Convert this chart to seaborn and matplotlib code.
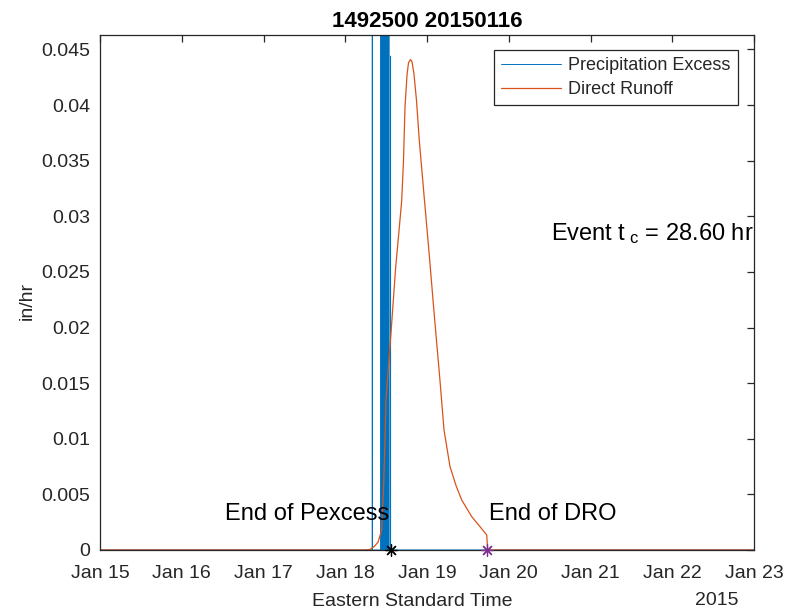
import numpy as np
import pandas as pd
import matplotlib
matplotlib.use("Agg")
import matplotlib.pyplot as plt
import matplotlib.dates as mdates
import seaborn as sns

# ---------------- data ----------------
title_text = "1492500 20150116"
start_date = "2015-01-15"
end_date = "2015-01-23"
event_day = "2015-01-18"  # reference for hour offsets

# precipitation excess spikes (hours after Jan 18 00:00, in/hr)
pe_hours = [7.95, 10.50, 10.90, 11.30, 11.70, 12.10, 12.45, 12.80, 13.30]
pe_values = [0.080, 0.120, 0.150, 0.110, 0.130, 0.100, 0.090, 0.070, 0.0444]

# direct runoff (hours after Jan 18 00:00, in/hr)
dro_hours = [5.80, 7.27, 8.44, 9.62, 10.70, 11.23, 11.67, 11.96, 12.70, 13.43,
             14.81, 15.78, 16.57, 17.10, 17.54, 18.13, 18.57, 19.16, 19.60,
             20.18, 20.92, 21.74, 23.21, 24.59, 26.06, 27.82, 28.99,
             30.75, 32.51, 34.19, 37.12, 39.56, 41.53, 41.82]
dro_values = [0.0, 0.00005, 0.0003, 0.0007, 0.0018, 0.0054, 0.0099, 0.0135,
              0.0166, 0.0195, 0.02545, 0.0287, 0.0314, 0.0350, 0.0398, 0.0427,
              0.0438, 0.0441, 0.0439, 0.0428, 0.0404, 0.0368, 0.0316, 0.0268,
              0.0214, 0.0152, 0.0108, 0.0075, 0.0058, 0.0045, 0.0030,
              0.0021, 0.00135, 0.0]

end_pexcess_hours = 13.35
end_dro_hours = 41.62
tc_hours = 28.60

yticks = [0, 0.005, 0.01, 0.015, 0.02, 0.025, 0.03, 0.035, 0.04, 0.045]
xtick_days = ["2015-01-15", "2015-01-16", "2015-01-17", "2015-01-18", "2015-01-19",
              "2015-01-20", "2015-01-21", "2015-01-22", "2015-01-23"]

# ---------------- build tables ----------------
t0 = pd.Timestamp(event_day)
t_start = pd.Timestamp(start_date)
t_end = pd.Timestamp(end_date)
eps = pd.Timedelta(minutes=1)

pe_t = [t_start]
pe_v = [0.0]
for h, v in zip(pe_hours, pe_values):
    t = t0 + pd.Timedelta(hours=h)
    pe_t += [t - eps, t, t + eps]
    pe_v += [0.0, v, 0.0]
pe_t.append(t_end)
pe_v.append(0.0)
pe_df = pd.DataFrame({"time": pe_t, "value": pe_v})

dro_t = [t_start] + [t0 + pd.Timedelta(hours=h) for h in dro_hours] + [t_end]
dro_v = [0.0] + dro_values + [0.0]
dro_df = pd.DataFrame({"time": dro_t, "value": dro_v})

# ---------------- style ----------------
sns.set_style("white")
plt.rcParams["font.family"] = ["Liberation Sans", "DejaVu Sans"]
plt.rcParams["mathtext.fontset"] = "custom"
plt.rcParams["mathtext.rm"] = "Liberation Sans"
plt.rcParams["mathtext.it"] = "Liberation Sans"

dark = (0.15, 0.15, 0.15)
blue = "#0072BD"
orange = "#D95319"
purple = "#7E2F8E"

fig = plt.figure(figsize=(7.86, 6.13), dpi=100)
ax = fig.add_axes([100 / 786, 1 - 550 / 613, 654 / 786, (550 - 35) / 613])

sns.lineplot(data=pe_df, x="time", y="value", ax=ax, color=blue, lw=0.7,
             estimator=None, sort=False, label="Precipitation Excess")
sns.lineplot(data=dro_df, x="time", y="value", ax=ax, color=orange, lw=0.9,
             estimator=None, sort=False, label="Direct Runoff")

# end markers (asterisk = plus + x)
t_pe_end = t0 + pd.Timedelta(hours=end_pexcess_hours)
t_dro_end = t0 + pd.Timedelta(hours=end_dro_hours)
for t, c in [(t_pe_end, "k"), (t_dro_end, purple)]:
    for m in [(4, 2, 0), (4, 2, 45)]:
        ax.plot([t], [0], marker=m, color=c, ms=9, mew=0.9, ls="none",
                clip_on=False, zorder=5)

ax.set_xlim(t_start, t_end)
ax.set_ylim(0, 0.0463)
ax.set_xticks([pd.Timestamp(d) for d in xtick_days])
ax.xaxis.set_major_formatter(mdates.DateFormatter("%b %d"))
ax.set_yticks(yticks)
ax.set_yticklabels([f"{v:g}" for v in yticks])

for s in ax.spines.values():
    s.set_color(dark)
    s.set_linewidth(0.9)
ax.tick_params(direction="in", length=5, width=0.9, color=dark,
               labelcolor=dark, labelsize=14, top=True, right=True)
ax.tick_params(axis="x", pad=11)
ax.tick_params(axis="y", pad=7)

ax.set_title(title_text, fontsize=16, fontweight="bold", color="k", pad=6)
ax.set_xlabel("Eastern Standard Time", fontsize=14, color=dark)
ax.xaxis.set_label_coords(0.477, -0.083)
ax.set_ylabel("in/hr", fontsize=14, color=dark)
ax.yaxis.set_label_coords(-0.098, 0.483)
ax.text(0.943, -0.099, "2015", transform=ax.transAxes, fontsize=14,
        color=dark, ha="center", va="center")

ax.text(t_pe_end - pd.Timedelta(minutes=30), 0.00325, "End of Pexcess",
        fontsize=17, ha="right", va="center", color="k")
ax.text(t_dro_end + pd.Timedelta(minutes=30), 0.00325, "End of DRO",
        fontsize=17, ha="left", va="center", color="k")
ax.text(pd.Timestamp("2015-01-20 12:20"), 0.02785,
        r"Event t$_{\ \mathregular{c}}$ = %.2f hr" % tc_hours,
        fontsize=17, ha="left", va="baseline", color="k")

leg = ax.legend(loc="upper right", bbox_to_anchor=(0.9755, 0.971),
                borderaxespad=0, fontsize=13, frameon=True, fancybox=False,
                edgecolor=dark, framealpha=1, handlelength=3.3,
                handletextpad=0.4, labelspacing=0.36, borderpad=0.41)
leg.get_frame().set_linewidth(0.9)

fig.savefig("out.png", dpi=100)
